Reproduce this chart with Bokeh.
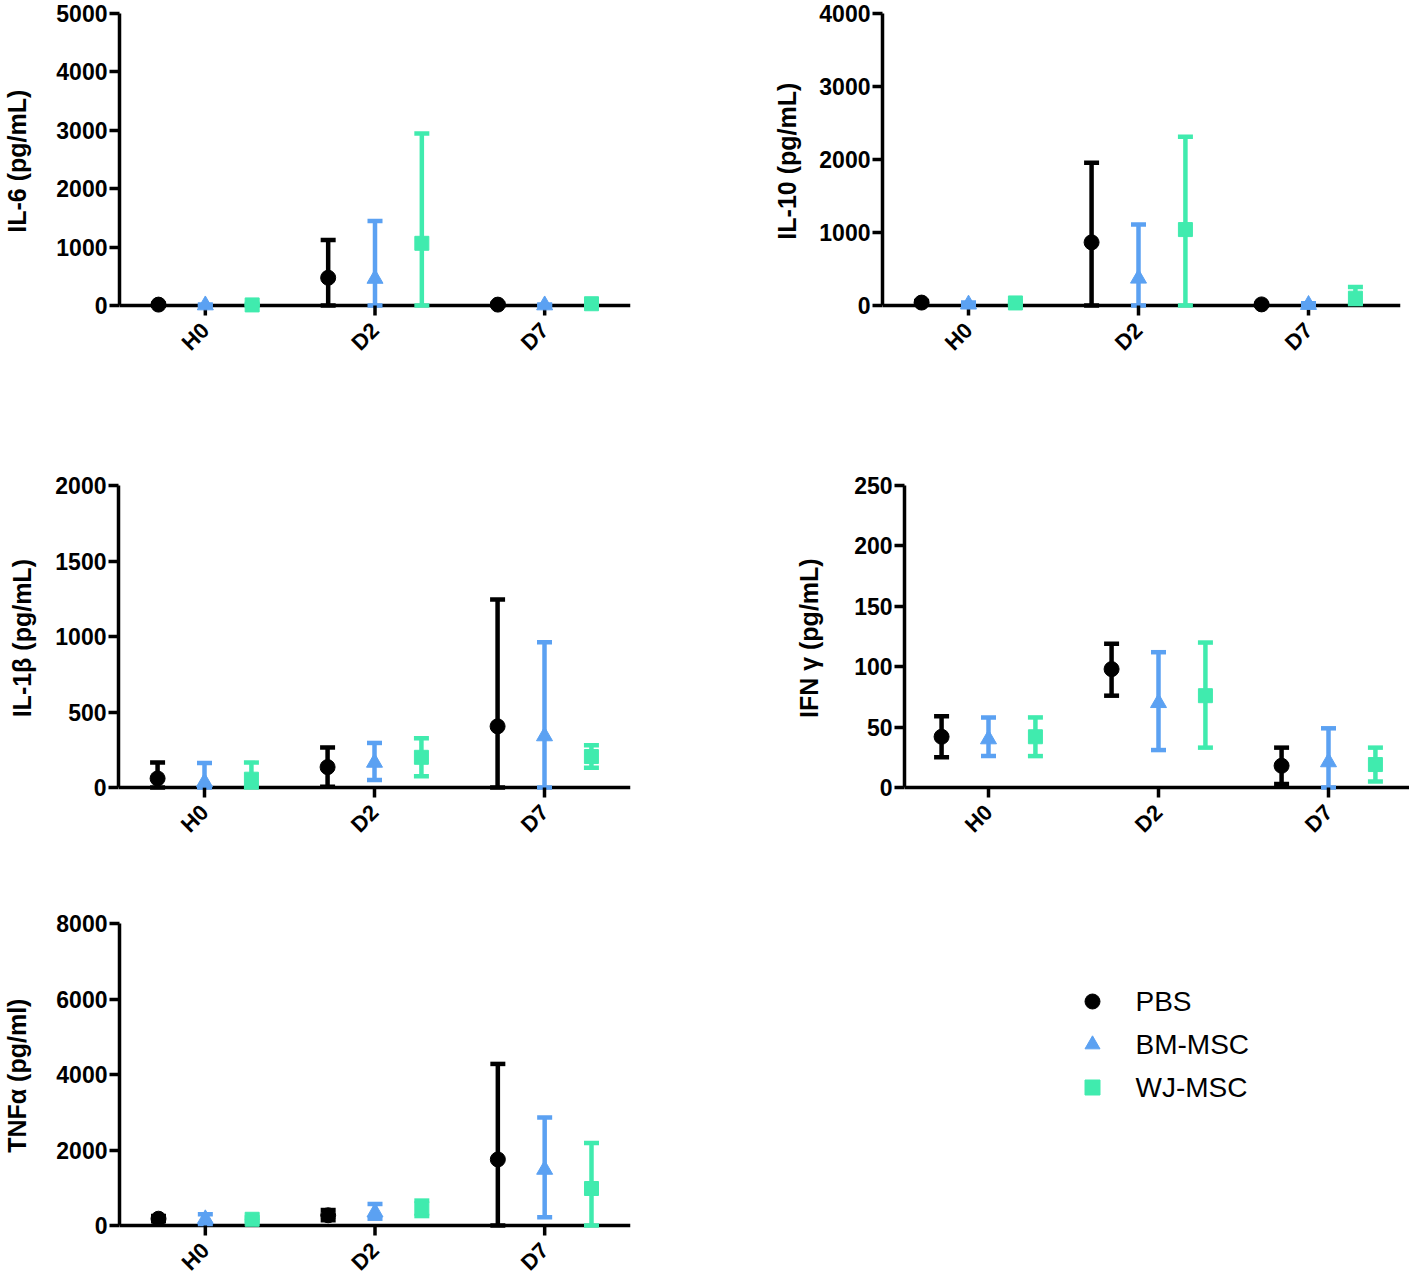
import math
from bokeh.plotting import figure
from bokeh.models import (ColumnDataSource, Range1d, FixedTicker, Whisker, TeeHead, Span)
from bokeh.core.properties import value
from bokeh.layouts import row, column
from bokeh.embed import file_html
from bokeh.resources import INLINE

# ---------------- data ----------------
TIMEPOINTS = ["H0", "D2", "D7"]
GROUPS = ["PBS", "BM-MSC", "WJ-MSC"]
COLORS = ["#000000", "#5BA1F2", "#40EBAE"]
MARKERS = ["circle", "triangle", "square"]
SIZES = [15, 16, 14]

# IL-6 (pg/mL)
IL6_TICKS = [0, 1000, 2000, 3000, 4000, 5000]
IL6_PBS = [15, 475, 15]
IL6_PBS_LO = [0, 0, 0]
IL6_PBS_HI = [30, 1120, 30]
IL6_BM = [5, 460, 5]
IL6_BM_LO = [0, 0, 0]
IL6_BM_HI = [15, 1445, 15]
IL6_WJ = [10, 1065, 30]
IL6_WJ_LO = [0, 0, 0]
IL6_WJ_HI = [25, 2945, 60]

# IL-10 (pg/mL)
IL10_TICKS = [0, 1000, 2000, 3000, 4000]
IL10_PBS = [40, 865, 15]
IL10_PBS_LO = [20, 0, 5]
IL10_PBS_HI = [60, 1955, 25]
IL10_BM = [15, 370, 10]
IL10_BM_LO = [0, 0, 0]
IL10_BM_HI = [40, 1110, 30]
IL10_WJ = [35, 1040, 100]
IL10_WJ_LO = [20, 0, 20]
IL10_WJ_HI = [55, 2310, 255]

# IL-1beta (pg/mL)
IL1B_TICKS = [0, 500, 1000, 1500, 2000]
IL1B_PBS = [60, 135, 405]
IL1B_PBS_LO = [0, 5, 0]
IL1B_PBS_HI = [165, 265, 1245]
IL1B_BM = [35, 165, 340]
IL1B_BM_LO = [0, 50, 0]
IL1B_BM_HI = [162, 295, 962]
IL1B_WJ = [55, 200, 205]
IL1B_WJ_LO = [0, 75, 130]
IL1B_WJ_HI = [165, 326, 280]

# IFN gamma (pg/mL)
IFNG_TICKS = [0, 50, 100, 150, 200, 250]
IFNG_PBS = [42, 98, 18]
IFNG_PBS_LO = [25, 76, 3]
IFNG_PBS_HI = [59, 119, 33]
IFNG_BM = [40, 70, 21]
IFNG_BM_LO = [26, 31, 0]
IFNG_BM_HI = [58, 112, 49]
IFNG_WJ = [42, 76, 19]
IFNG_WJ_LO = [26, 33, 5]
IFNG_WJ_HI = [58, 120, 33]

# TNF alpha (pg/ml)
TNFA_TICKS = [0, 2000, 4000, 6000, 8000]
TNFA_PBS = [180, 270, 1750]
TNFA_PBS_LO = [110, 140, 0]
TNFA_PBS_HI = [250, 410, 4280]
TNFA_BM = [170, 350, 1480]
TNFA_BM_LO = [40, 180, 220]
TNFA_BM_HI = [300, 570, 2860]
TNFA_WJ = [165, 450, 980]
TNFA_WJ_LO = [120, 250, 0]
TNFA_WJ_HI = [215, 660, 2185]

# ---------------- styling / layout ----------------
FONT = "Liberation Sans"
PX_PER_CAT = 170.0
OFFSET = 0.276
TICK_PX = 10      # length of the category tick marks under the baseline
LABEL_DROP = 21   # distance of the rotated category labels below the baseline
YLABEL_PX = 25
NBSP_W = 0.278 * YLABEL_PX   # width of one no-break space in the axis-label font


def make_panel(ylabel, ticks, series, width, frame_w, b_left, b_top, data_h, pad, b_bottom,
               h0_px, label_std):
    top_val = ticks[-1]
    per_px = top_val / data_h
    x0 = 1 - h0_px / PX_PER_CAT
    height = b_top + data_h + pad + b_bottom
    p = figure(width=width, height=height, title=None,
               x_range=Range1d(x0, x0 + frame_w / PX_PER_CAT),
               y_range=Range1d(-pad * per_px, top_val),
               output_backend="svg", toolbar_location=None, x_axis_location=None,
               min_border_left=b_left, min_border_right=width - b_left - frame_w,
               min_border_top=b_top, min_border_bottom=b_bottom)
    p.grid.visible = False
    p.outline_line_color = None
    p.background_fill_color = "white"
    p.border_fill_color = "white"

    ya = p.yaxis[0]
    ya.axis_line_width = 3.5
    ya.axis_line_color = "black"
    ya.major_tick_line_width = 3.5
    ya.major_tick_line_color = "black"
    ya.minor_tick_line_color = None
    ya.major_tick_out = 10
    ya.major_tick_in = 0
    ya.ticker = FixedTicker(ticks=ticks)
    ya.bounds = (0, top_val)
    ya.major_label_standoff = 2
    ya.major_label_text_font = FONT
    ya.major_label_text_font_style = "bold"
    ya.major_label_text_font_size = "23px"
    ya.major_label_text_color = "black"
    # keep the title centred on the drawn axis line (the frame extends below zero)
    n_sp = int(round((pad / 2) / (NBSP_W / 2)))
    ya.axis_label = "\u00a0" * n_sp + ylabel
    ya.axis_label_text_font = FONT
    ya.axis_label_text_font_style = "bold"
    ya.axis_label_text_font_size = f"{YLABEL_PX}px"
    ya.axis_label_text_color = "black"
    ya.axis_label_standoff = label_std

    # category axis: baseline at zero, short ticks and rotated labels
    p.add_layout(Span(location=0, dimension="width", line_color="black",
                      line_width=3.5, level="underlay"))
    cat_x = [j + 1 for j in range(len(TIMEPOINTS))]
    p.segment(x0=cat_x, y0=[0] * len(cat_x), x1=cat_x, y1=[-TICK_PX * per_px] * len(cat_x),
              line_color="black", line_width=3.5)
    p.text(x=cat_x, y=[-LABEL_DROP * per_px] * len(cat_x), text=TIMEPOINTS,
           angle=math.pi / 4, text_align="right", text_baseline="middle",
           text_font=value(FONT), text_font_style="bold", text_font_size="22px",
           text_color="black")

    for i, (m, lo, hi) in enumerate(series):
        xs = [j + 1 + (i - 1) * OFFSET for j in range(len(TIMEPOINTS))]
        src = ColumnDataSource(dict(x=xs, m=m, lo=lo, hi=hi))
        c = COLORS[i]
        w = Whisker(source=src, base="x", lower="lo", upper="hi",
                    line_color=c, line_width=4.5,
                    upper_head=TeeHead(size=15, line_color=c, line_width=4.5),
                    lower_head=TeeHead(size=15, line_color=c, line_width=4.5))
        p.add_layout(w)
        p.scatter(x="x", y="m", source=src, marker=MARKERS[i], size=SIZES[i],
                  fill_color=c, line_color=c)
    return p


LEFT_W = 660
f1 = make_panel("IL-6 (pg/mL)", IL6_TICKS,
                [(IL6_PBS, IL6_PBS_LO, IL6_PBS_HI), (IL6_BM, IL6_BM_LO, IL6_BM_HI),
                 (IL6_WJ, IL6_WJ_LO, IL6_WJ_HI)],
                LEFT_W, 512, 118, 13, 292, 52, 114, 86, 22)
f2 = make_panel("IL-10 (pg/mL)", IL10_TICKS,
                [(IL10_PBS, IL10_PBS_LO, IL10_PBS_HI), (IL10_BM, IL10_BM_LO, IL10_BM_HI),
                 (IL10_WJ, IL10_WJ_LO, IL10_WJ_HI)],
                745, 518, 222, 13, 292, 52, 114, 86, 15)
f3 = make_panel("IL-1\u03b2 (pg/mL)", IL1B_TICKS,
                [(IL1B_PBS, IL1B_PBS_LO, IL1B_PBS_HI), (IL1B_BM, IL1B_BM_LO, IL1B_BM_HI),
                 (IL1B_WJ, IL1B_WJ_LO, IL1B_WJ_HI)],
                LEFT_W, 512, 118, 14, 302, 52, 70, 86, 16)
f4 = make_panel("IFN \u03b3 (pg/mL)", IFNG_TICKS,
                [(IFNG_PBS, IFNG_PBS_LO, IFNG_PBS_HI), (IFNG_BM, IFNG_BM_LO, IFNG_BM_HI),
                 (IFNG_WJ, IFNG_WJ_LO, IFNG_WJ_HI)],
                749, 505, 244, 14, 302, 52, 70, 84, 28)
f5 = make_panel("TNF\u03b1 (pg/ml)", TNFA_TICKS,
                [(TNFA_PBS, TNFA_PBS_LO, TNFA_PBS_HI), (TNFA_BM, TNFA_BM_LO, TNFA_BM_HI),
                 (TNFA_WJ, TNFA_WJ_LO, TNFA_WJ_HI)],
                LEFT_W, 512, 118, 14, 302, 51, 0, 86, 22)

# legend panel (drawn with glyphs, one row per group)
LEG_W, LEG_H = 745, f5.height - 15
fl = figure(frame_width=LEG_W, frame_height=LEG_H, title=None,
            x_range=Range1d(0, LEG_W), y_range=Range1d(LEG_H, 0),
            output_backend="svg", toolbar_location=None,
            min_border_left=0, min_border_right=0, min_border_top=0, min_border_bottom=0,
            x_axis_location=None, y_axis_location=None)
fl.grid.visible = False
fl.outline_line_color = None
LEG_MARK_X, LEG_TEXT_X, LEG_FIRST_Y, LEG_STEP = 432, 475, 78, 43
for i, g in enumerate(GROUPS):
    y = LEG_FIRST_Y + i * LEG_STEP
    fl.scatter(x=[LEG_MARK_X], y=[y], marker=MARKERS[i], size=15,
               fill_color=COLORS[i], line_color=COLORS[i])
    fl.text(x=[LEG_TEXT_X], y=[y], text=[g], text_font=value(FONT),
            text_font_size="28px", text_baseline="middle", text_align="left",
            text_color="black")

layout = column(row(f1, f2), row(f3, f4), row(f5, fl))
open("out.html", "w").write(file_html(layout, INLINE))
